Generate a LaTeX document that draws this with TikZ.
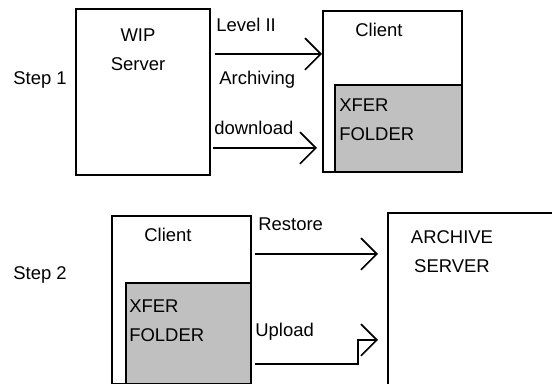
\documentclass[tikz,border=0pt]{standalone}
\usepackage{fontspec}
\setmainfont{Liberation Sans}
\usetikzlibrary{arrows.meta}
\usetikzlibrary{positioning}
\definecolor{foldergray}{HTML}{C0C0C0}
\tikzset{
	box/.style = {
		draw=black,
		line width=1.1pt,
		inner sep=0pt,
		anchor=north west
	},
	folderbox/.style = {
		box,
		fill=foldergray
	},
	txt/.style = {
		font=\fontsize{10.5pt}{16.5pt}\selectfont,
		inner sep=0pt,
		align=center
	},
	txt_left/.style = {
		txt,
		align=left,
		anchor=west
	},
	flow/.style = {
		-{Straight Barb[length=9pt,width=18pt]},
		line width=1pt
	},
}

\begin{document}
\begin{tikzpicture}[x=0.02cm, y=-0.02cm]
\useasboundingbox (0,0) rectangle (552,384);
% step 1
\node [txt] (step1) at (40,80) {Step 1};
\node [box, minimum width=2.68cm, minimum height=3.32cm] (wip) at (75,8) {};
\node [txt] (wiptxt) at (138,50) {WIP\\Server};
\node [box, minimum width=2.78cm, minimum height=3.22cm] (client1) at (322,10) {};
\node [txt] (client1txt) at (379,30) {Client};
\node [folderbox, minimum width=2.54cm, minimum height=1.74cm] (xfer1) at (334,84) {};
\node [txt_left] (xfer1txt) at (339,120) {XFER\\FOLDER};
\node [txt_left] (level) at (216,25) {Level II};
\node [txt_left] (archiving) at (219,80) {Archiving};
\node [txt_left] (download) at (214,128) {download};
\coordinate (levelstart) at (215,54);
\coordinate (downstart) at (213,148);
\coordinate (downend) at (317,148);
\draw [flow] (levelstart) -- (levelstart -| client1.west);
\draw [flow] (downstart) -- (downend);
% step 2
\node [txt] (step2) at (40,275) {Step 2};
\node [box, minimum width=2.78cm, minimum height=3.36cm] (client2) at (111,215) {};
\node [txt] (client2txt) at (168,235) {Client};
\node [folderbox, minimum width=2.50cm, minimum height=2.02cm] (xfer2) at (125,282) {};
\node [txt_left] (xfer2txt) at (129,321) {XFER\\FOLDER};
\node [box, minimum width=3.60cm, minimum height=3.60cm] (archive) at (387,212) {};
\node [txt] (archivetxt) at (452,252) {ARCHIVE\\SERVER};
\node [txt_left] (restore) at (258,224) {Restore};
\node [txt_left] (upload) at (255,332) {Upload};
\coordinate (restorestart) at (255,254);
\coordinate (restoreend) at (378,254);
\coordinate (upstart) at (255,364);
\coordinate (upend) at (378,340);
\draw [flow] (restorestart) -- (restoreend);
\draw [flow] (upstart) -- ++(103,0) |- (upend);
\end{tikzpicture}
\end{document}
